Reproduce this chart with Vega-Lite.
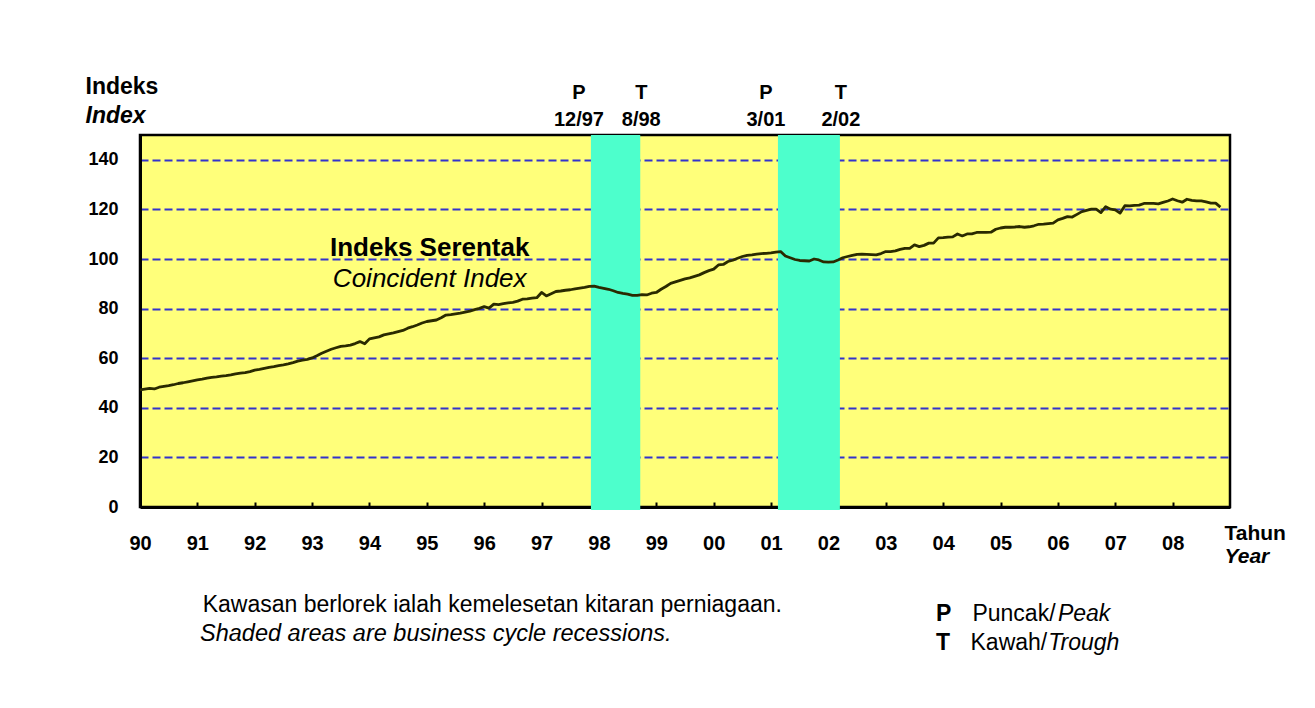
{
  "$schema": "https://vega.github.io/schema/vega-lite/v6.json",
  "width": 1090,
  "height": 372,
  "autosize": {"type": "none"},
  "padding": {"left": 140, "top": 135, "right": 85, "bottom": 201},
  "background": "white",
  "config": {
    "font": "Liberation Sans",
    "view": {"fill": "#FFFF7A", "stroke": "black", "strokeWidth": 2.5},
    "text": {"font": "Liberation Sans", "color": "black"}
  },
  "datasets": {
    "index": [
      {"t":1990,"v":47.2},{"t":1990.083,"v":47.5},{"t":1990.167,"v":47.8},{"t":1990.25,"v":47.6},{"t":1990.333,"v":48.3},{"t":1990.417,"v":48.6},{"t":1990.5,"v":48.9},{"t":1990.583,"v":49.3},{"t":1990.667,"v":49.8},{"t":1990.75,"v":50.1},{"t":1990.833,"v":50.5},{"t":1990.917,"v":50.9},
      {"t":1991,"v":51.3},{"t":1991.083,"v":51.6},{"t":1991.167,"v":52.0},{"t":1991.25,"v":52.3},{"t":1991.333,"v":52.5},{"t":1991.417,"v":52.8},{"t":1991.5,"v":53.0},{"t":1991.583,"v":53.3},{"t":1991.667,"v":53.7},{"t":1991.75,"v":54.0},{"t":1991.833,"v":54.2},{"t":1991.917,"v":54.6},
      {"t":1992,"v":55.2},{"t":1992.083,"v":55.5},{"t":1992.167,"v":55.9},{"t":1992.25,"v":56.3},{"t":1992.333,"v":56.6},{"t":1992.417,"v":57.0},{"t":1992.5,"v":57.3},{"t":1992.583,"v":57.7},{"t":1992.667,"v":58.2},{"t":1992.75,"v":58.8},{"t":1992.833,"v":59.2},{"t":1992.917,"v":59.5},
      {"t":1993,"v":60.1},{"t":1993.083,"v":61.0},{"t":1993.167,"v":62.0},{"t":1993.25,"v":62.8},{"t":1993.333,"v":63.6},{"t":1993.417,"v":64.2},{"t":1993.5,"v":64.8},{"t":1993.583,"v":65.0},{"t":1993.667,"v":65.3},{"t":1993.75,"v":65.9},{"t":1993.833,"v":66.7},{"t":1993.917,"v":65.8},
      {"t":1994,"v":67.8},{"t":1994.083,"v":68.2},{"t":1994.167,"v":68.6},{"t":1994.25,"v":69.4},{"t":1994.333,"v":69.8},{"t":1994.417,"v":70.2},{"t":1994.5,"v":70.7},{"t":1994.583,"v":71.2},{"t":1994.667,"v":72.1},{"t":1994.75,"v":72.7},{"t":1994.833,"v":73.4},{"t":1994.917,"v":74.2},
      {"t":1995,"v":74.8},{"t":1995.083,"v":75.1},{"t":1995.167,"v":75.4},{"t":1995.25,"v":76.3},{"t":1995.333,"v":77.4},{"t":1995.417,"v":77.6},{"t":1995.5,"v":77.9},{"t":1995.583,"v":78.2},{"t":1995.667,"v":78.6},{"t":1995.75,"v":79.0},{"t":1995.833,"v":79.6},{"t":1995.917,"v":80.1},
      {"t":1996,"v":80.8},{"t":1996.083,"v":80.2},{"t":1996.167,"v":81.8},{"t":1996.25,"v":81.6},{"t":1996.333,"v":82.0},{"t":1996.417,"v":82.3},{"t":1996.5,"v":82.5},{"t":1996.583,"v":83.0},{"t":1996.667,"v":83.8},{"t":1996.75,"v":83.9},{"t":1996.833,"v":84.2},{"t":1996.917,"v":84.4},
      {"t":1997,"v":86.5},{"t":1997.083,"v":85.1},{"t":1997.167,"v":86.0},{"t":1997.25,"v":86.9},{"t":1997.333,"v":87.1},{"t":1997.417,"v":87.4},{"t":1997.5,"v":87.6},{"t":1997.583,"v":88.0},{"t":1997.667,"v":88.3},{"t":1997.75,"v":88.6},{"t":1997.833,"v":89.0},{"t":1997.917,"v":89.1},
      {"t":1998,"v":88.6},{"t":1998.083,"v":88.2},{"t":1998.167,"v":87.8},{"t":1998.25,"v":87.2},{"t":1998.333,"v":86.5},{"t":1998.417,"v":86.1},{"t":1998.5,"v":85.8},{"t":1998.583,"v":85.3},{"t":1998.667,"v":85.3},{"t":1998.75,"v":85.6},{"t":1998.833,"v":85.5},{"t":1998.917,"v":86.2},
      {"t":1999,"v":86.5},{"t":1999.083,"v":87.8},{"t":1999.167,"v":88.9},{"t":1999.25,"v":90.2},{"t":1999.333,"v":90.8},{"t":1999.417,"v":91.4},{"t":1999.5,"v":92.0},{"t":1999.583,"v":92.4},{"t":1999.667,"v":93.0},{"t":1999.75,"v":93.6},{"t":1999.833,"v":94.5},{"t":1999.917,"v":95.3},
      {"t":2000,"v":95.9},{"t":2000.083,"v":97.6},{"t":2000.167,"v":97.8},{"t":2000.25,"v":99.0},{"t":2000.333,"v":99.5},{"t":2000.417,"v":100.3},{"t":2000.5,"v":101.0},{"t":2000.583,"v":101.5},{"t":2000.667,"v":101.7},{"t":2000.75,"v":102.0},{"t":2000.833,"v":102.2},{"t":2000.917,"v":102.3},
      {"t":2001,"v":102.5},{"t":2001.083,"v":102.8},{"t":2001.167,"v":103.0},{"t":2001.25,"v":101.2},{"t":2001.333,"v":100.5},{"t":2001.417,"v":99.8},{"t":2001.5,"v":99.4},{"t":2001.583,"v":99.3},{"t":2001.667,"v":99.2},{"t":2001.75,"v":100.0},{"t":2001.833,"v":99.6},{"t":2001.917,"v":98.8},
      {"t":2002,"v":98.7},{"t":2002.083,"v":98.8},{"t":2002.167,"v":99.6},{"t":2002.25,"v":100.5},{"t":2002.333,"v":101.0},{"t":2002.417,"v":101.5},{"t":2002.5,"v":101.9},{"t":2002.583,"v":102.0},{"t":2002.667,"v":101.9},{"t":2002.75,"v":101.8},{"t":2002.833,"v":101.7},{"t":2002.917,"v":102.2},
      {"t":2003,"v":103.0},{"t":2003.083,"v":103.0},{"t":2003.167,"v":103.3},{"t":2003.25,"v":103.9},{"t":2003.333,"v":104.3},{"t":2003.417,"v":104.3},{"t":2003.5,"v":105.7},{"t":2003.583,"v":105.0},{"t":2003.667,"v":105.5},{"t":2003.75,"v":106.4},{"t":2003.833,"v":106.4},{"t":2003.917,"v":108.5},
      {"t":2004,"v":108.6},{"t":2004.083,"v":108.8},{"t":2004.167,"v":108.9},{"t":2004.25,"v":110.1},{"t":2004.333,"v":109.3},{"t":2004.417,"v":110.1},{"t":2004.5,"v":110.1},{"t":2004.583,"v":110.7},{"t":2004.667,"v":110.7},{"t":2004.75,"v":110.7},{"t":2004.833,"v":110.8},{"t":2004.917,"v":112.0},
      {"t":2005,"v":112.5},{"t":2005.083,"v":112.8},{"t":2005.167,"v":112.8},{"t":2005.25,"v":112.9},{"t":2005.333,"v":113.1},{"t":2005.417,"v":112.8},{"t":2005.5,"v":113.0},{"t":2005.583,"v":113.4},{"t":2005.667,"v":114.0},{"t":2005.75,"v":114.1},{"t":2005.833,"v":114.3},{"t":2005.917,"v":114.5},
      {"t":2006,"v":115.8},{"t":2006.083,"v":116.4},{"t":2006.167,"v":117.1},{"t":2006.25,"v":116.9},{"t":2006.333,"v":118.0},{"t":2006.417,"v":119.1},{"t":2006.5,"v":119.6},{"t":2006.583,"v":120.1},{"t":2006.667,"v":120.1},{"t":2006.75,"v":118.7},{"t":2006.833,"v":121.1},{"t":2006.917,"v":120.1},
      {"t":2007,"v":119.8},{"t":2007.083,"v":118.5},{"t":2007.167,"v":121.5},{"t":2007.25,"v":121.4},{"t":2007.333,"v":121.6},{"t":2007.417,"v":121.7},{"t":2007.5,"v":122.4},{"t":2007.583,"v":122.4},{"t":2007.667,"v":122.4},{"t":2007.75,"v":122.2},{"t":2007.833,"v":122.8},{"t":2007.917,"v":123.4},
      {"t":2008,"v":124.2},{"t":2008.083,"v":123.5},{"t":2008.167,"v":122.9},{"t":2008.25,"v":124.1},{"t":2008.333,"v":123.6},{"t":2008.417,"v":123.4},{"t":2008.5,"v":123.4},{"t":2008.583,"v":123.0},{"t":2008.667,"v":122.5},{"t":2008.75,"v":122.5},{"t":2008.833,"v":120.9}
    ],
    "recessions": [
      {"start": 1997.86, "end": 1998.72, "peak": "12/97", "trough": "8/98"},
      {"start": 2001.12, "end": 2002.2, "peak": "3/01", "trough": "2/02"}
    ],
    "note": [{}]
  },
  "resolve": {"axis": {"x": "independent", "y": "independent"}},
  "layer": [
    {
      "data": {"name": "recessions"},
      "mark": {"type": "rect", "color": "#4DFFCC"},
      "encoding": {
        "x": {
          "field": "start", "type": "quantitative",
          "scale": {"domain": [1990, 2009], "nice": false, "zero": false},
          "axis": {
            "orient": "bottom",
            "values": [1990,1991,1992,1993,1994,1995,1996,1997,1998,1999,2000,2001,2002,2003,2004,2005,2006,2007,2008],
            "labelExpr": "slice(toString(datum.value), 2)",
            "labelFont": "Liberation Sans", "labelFontSize": 20, "labelFontWeight": "bold", "labelColor": "black",
            "labelPadding": 31, "labelFlush": false, "labelOverlap": false,
            "tickSize": -5, "tickWidth": 2, "tickColor": "black",
            "domainColor": "black", "domainWidth": 3,
            "grid": false,
            "title": "Tahun", "titleFont": "Liberation Sans", "titleFontSize": 21, "titleFontWeight": "bold", "titleColor": "black",
            "titleX": 1084, "titleY": 32, "titleAlign": "left", "titleBaseline": "alphabetic", "titleAnchor": null
          }
        },
        "x2": {"field": "end"},
        "y": {
          "datum": 150, "type": "quantitative",
          "scale": {"domain": [0, 150], "nice": false, "zero": true},
          "axis": {
            "orient": "left",
            "values": [0,20,40,60,80,100,120,140],
            "labelFont": "Liberation Sans", "labelFontSize": 18, "labelFontWeight": "bold", "labelColor": "black",
            "labelPadding": 22,
            "ticks": false,
            "domainColor": "black", "domainWidth": 3,
            "grid": true, "gridColor": "#3333CC", "gridWidth": 2, "gridDash": [8, 4],
            "gridOpacity": {"condition": {"test": "datum.value === 0", "value": 0}, "value": 1},
            "title": "Indeks", "titleFont": "Liberation Sans", "titleFontSize": 23, "titleFontWeight": "bold", "titleColor": "black",
            "titleX": -55, "titleY": -42, "titleAngle": 0, "titleAlign": "left", "titleBaseline": "alphabetic"
          }
        },
        "y2": {"datum": -1.2}
      }
    },
    {
      "data": {"name": "index"},
      "mark": {"type": "line", "color": "#2A2A00", "strokeWidth": 2.8, "strokeJoin": "round"},
      "encoding": {
        "x": {
          "field": "t", "type": "quantitative",
          "scale": {"domain": [1990, 2009], "nice": false, "zero": false},
          "axis": {
            "orient": "bottom", "labels": false, "ticks": false, "domain": false, "grid": false,
            "title": "Year", "titleFont": "Liberation Sans", "titleFontSize": 21, "titleFontWeight": "bold", "titleFontStyle": "italic", "titleColor": "black",
            "titleX": 1084, "titleY": 55, "titleAlign": "left", "titleBaseline": "alphabetic"
          }
        },
        "y": {
          "field": "v", "type": "quantitative",
          "scale": {"domain": [0, 150], "nice": false},
          "axis": {
            "orient": "left", "labels": false, "ticks": false, "domain": false, "grid": false,
            "title": "Index", "titleFont": "Liberation Sans", "titleFontSize": 23, "titleFontWeight": "bold", "titleFontStyle": "italic", "titleColor": "black",
            "titleX": -55, "titleY": -13, "titleAngle": 0, "titleAlign": "left", "titleBaseline": "alphabetic"
          }
        }
      }
    },
    {
      "data": {"name": "recessions"},
      "mark": {"type": "text", "text": "P", "fontSize": 20, "fontWeight": "bold", "align": "center", "baseline": "alphabetic", "dx": -12},
      "encoding": {
        "x": {"field": "start", "type": "quantitative", "axis": null},
        "y": {"datum": 164.6, "type": "quantitative", "axis": null}
      }
    },
    {
      "data": {"name": "recessions"},
      "mark": {"type": "text", "fontSize": 20, "fontWeight": "bold", "align": "center", "baseline": "alphabetic", "dx": -12},
      "encoding": {
        "x": {"field": "start", "type": "quantitative", "axis": null},
        "y": {"datum": 153.7, "type": "quantitative", "axis": null},
        "text": {"field": "peak"}
      }
    },
    {
      "data": {"name": "recessions"},
      "mark": {"type": "text", "text": "T", "fontSize": 20, "fontWeight": "bold", "align": "center", "baseline": "alphabetic", "dx": 1},
      "encoding": {
        "x": {"field": "end", "type": "quantitative", "axis": null},
        "y": {"datum": 164.6, "type": "quantitative", "axis": null}
      }
    },
    {
      "data": {"name": "recessions"},
      "mark": {"type": "text", "fontSize": 20, "fontWeight": "bold", "align": "center", "baseline": "alphabetic", "dx": 1},
      "encoding": {
        "x": {"field": "end", "type": "quantitative", "axis": null},
        "y": {"datum": 153.7, "type": "quantitative", "axis": null},
        "text": {"field": "trough"}
      }
    },
    {
      "data": {"name": "note"},
      "mark": {"type": "text", "text": "Indeks Serentak", "fontSize": 26, "fontWeight": "bold", "align": "center", "baseline": "alphabetic"},
      "encoding": {
        "x": {"datum": 1995.05, "type": "quantitative", "axis": null},
        "y": {"datum": 101.2, "type": "quantitative", "axis": null}
      }
    },
    {
      "data": {"name": "note"},
      "mark": {"type": "text", "text": "Coincident Index", "fontSize": 26, "fontStyle": "italic", "align": "center", "baseline": "alphabetic"},
      "encoding": {
        "x": {"datum": 1995.05, "type": "quantitative", "axis": null},
        "y": {"datum": 88.7, "type": "quantitative", "axis": null}
      }
    },
    {
      "data": {"name": "note"},
      "mark": {"type": "text", "text": "Kawasan berlorek ialah kemelesetan kitaran perniagaan.", "fontSize": 23, "align": "left", "baseline": "alphabetic"},
      "encoding": {
        "x": {"datum": 1991.093, "type": "quantitative", "axis": null},
        "y": {"datum": -42.4, "type": "quantitative", "axis": null}
      }
    },
    {
      "data": {"name": "note"},
      "mark": {"type": "text", "text": "Shaded areas are business cycle recessions.", "fontSize": 23.5, "fontStyle": "italic", "align": "left", "baseline": "alphabetic"},
      "encoding": {
        "x": {"datum": 1991.046, "type": "quantitative", "axis": null},
        "y": {"datum": -54.1, "type": "quantitative", "axis": null}
      }
    },
    {
      "data": {"name": "note"},
      "mark": {"type": "text", "text": "P", "fontSize": 23, "fontWeight": "bold", "align": "left", "baseline": "alphabetic"},
      "encoding": {
        "x": {"datum": 2003.875, "type": "quantitative", "axis": null},
        "y": {"datum": -45.9, "type": "quantitative", "axis": null}
      }
    },
    {
      "data": {"name": "note"},
      "mark": {"type": "text", "text": "Puncak/", "fontSize": 23, "align": "left", "baseline": "alphabetic"},
      "encoding": {
        "x": {"datum": 2004.51, "type": "quantitative", "axis": null},
        "y": {"datum": -45.9, "type": "quantitative", "axis": null}
      }
    },
    {
      "data": {"name": "note"},
      "mark": {"type": "text", "text": "Peak", "fontSize": 23, "fontStyle": "italic", "align": "left", "baseline": "alphabetic"},
      "encoding": {
        "x": {"datum": 2006.0, "type": "quantitative", "axis": null},
        "y": {"datum": -45.9, "type": "quantitative", "axis": null}
      }
    },
    {
      "data": {"name": "note"},
      "mark": {"type": "text", "text": "T", "fontSize": 23, "fontWeight": "bold", "align": "left", "baseline": "alphabetic"},
      "encoding": {
        "x": {"datum": 2003.875, "type": "quantitative", "axis": null},
        "y": {"datum": -57.7, "type": "quantitative", "axis": null}
      }
    },
    {
      "data": {"name": "note"},
      "mark": {"type": "text", "text": "Kawah/", "fontSize": 23, "align": "left", "baseline": "alphabetic"},
      "encoding": {
        "x": {"datum": 2004.477, "type": "quantitative", "axis": null},
        "y": {"datum": -57.7, "type": "quantitative", "axis": null}
      }
    },
    {
      "data": {"name": "note"},
      "mark": {"type": "text", "text": "Trough", "fontSize": 23, "fontStyle": "italic", "align": "left", "baseline": "alphabetic"},
      "encoding": {
        "x": {"datum": 2005.83, "type": "quantitative", "axis": null},
        "y": {"datum": -57.7, "type": "quantitative", "axis": null}
      }
    }
  ]
}
